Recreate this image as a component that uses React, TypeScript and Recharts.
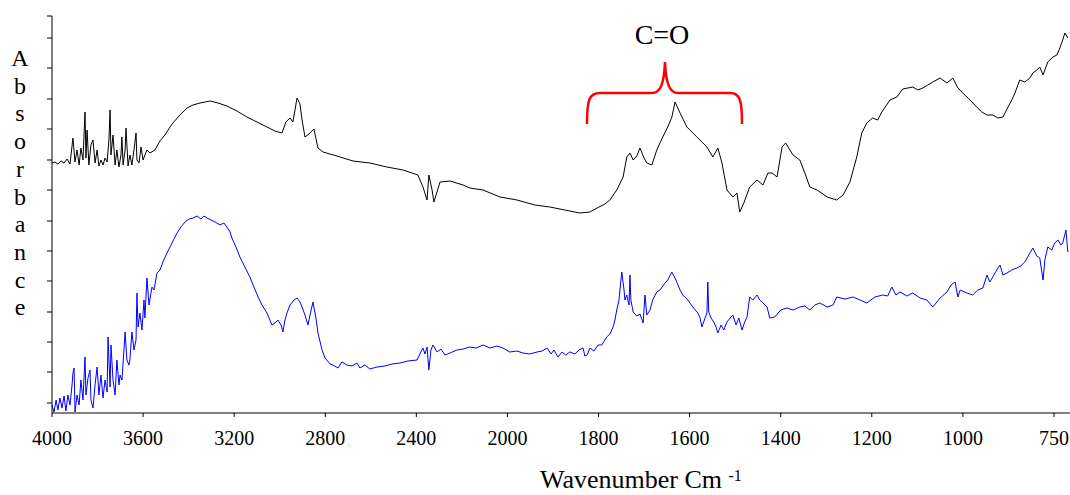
import { LineChart, Line, XAxis, YAxis } from 'recharts'

const SERIF = 'Liberation Serif, Times New Roman, DejaVu Serif, serif'

// axis break at 2000 cm-1: 400 per tick on the left, 200 per tick on the right
const X_TICKS = [4000, 3600, 3200, 2800, 2400, 2000, 1800, 1600, 1400, 1200, 1000, 750]
const X_END = 706
const Y_TICKS = [0.1, 0.41, 0.71, 1.01, 1.32, 1.62, 1.92, 2.23, 2.53, 2.84, 3.14, 3.45, 3.75, 3.97]
const Y_MAX = 3.97

const BLACK_WAVENUMBER = [
  4000, 3987, 3974, 3960, 3947, 3934, 3921, 3908, 3899, 3890,
  3881, 3873, 3864, 3855, 3851, 3846, 3838, 3829, 3820, 3811,
  3802, 3794, 3785, 3776, 3767, 3758, 3750, 3745, 3741, 3732,
  3723, 3715, 3706, 3697, 3693, 3688, 3679, 3675, 3666, 3658,
  3649, 3640, 3631, 3627, 3618, 3609, 3600, 3592, 3583, 3570,
  3548, 3526, 3504, 3482, 3469, 3438, 3407, 3381, 3350, 3328,
  3306, 3271, 3232, 3188, 3144, 3100, 3056, 3021, 2990, 2973,
  2955, 2942, 2924, 2911, 2902, 2889, 2867, 2850, 2832, 2810,
  2749, 2678, 2604, 2529, 2459, 2393, 2371, 2353, 2345, 2331,
  2323, 2296, 2252, 2195, 2165, 2107, 2033, 1979, 1940, 1907,
  1874, 1841, 1819, 1803, 1786, 1775, 1760, 1746, 1738, 1731,
  1724, 1716, 1709, 1700, 1694, 1683, 1672, 1659, 1648, 1639,
  1632, 1621, 1606, 1584, 1562, 1549, 1538, 1529, 1518, 1505,
  1496, 1490, 1481, 1468, 1452, 1439, 1428, 1419, 1408, 1397,
  1389, 1373, 1358, 1347, 1336, 1320, 1298, 1277, 1263, 1248,
  1233, 1222, 1211, 1198, 1187, 1178, 1160, 1145, 1132, 1110,
  1099, 1088, 1077, 1066, 1050, 1035, 1022, 1011, 1000, 989,
  975, 962, 948, 934, 918, 904, 890, 876, 866, 857,
  844, 830, 816, 808, 797, 789, 780, 767, 753, 742,
  734, 726, 720, 712,
]

const BLACK_ABSORBANCE = [
  2.5, 2.51, 2.49, 2.52, 2.5, 2.54, 2.49, 2.75, 2.51, 2.63,
  2.48, 2.65, 2.53, 3.01, 2.55, 2.83, 2.48, 2.68, 2.73, 2.5,
  2.63, 2.47, 2.53, 2.48, 2.55, 2.51, 2.73, 3.03, 2.58, 2.78,
  2.48, 2.63, 2.46, 2.58, 2.76, 2.48, 2.63, 2.85, 2.47, 2.58,
  2.48, 2.63, 2.8, 2.53, 2.5, 2.66, 2.53, 2.58, 2.63, 2.6,
  2.63, 2.72, 2.78, 2.86, 2.9, 2.98, 3.05, 3.08, 3.1, 3.11,
  3.12, 3.1, 3.07, 3.02, 2.96, 2.91, 2.86, 2.82, 2.8, 2.91,
  2.95, 2.91, 3.15, 3.09, 2.93, 2.76, 2.8, 2.84, 2.65, 2.61,
  2.57, 2.52, 2.5, 2.46, 2.43, 2.38, 2.26, 2.13, 2.38, 2.23,
  2.11, 2.31, 2.32, 2.28, 2.25, 2.23, 2.16, 2.13, 2.08, 2.06,
  2.03, 2.0, 2.01, 2.05, 2.09, 2.13, 2.23, 2.36, 2.56, 2.6,
  2.53, 2.57, 2.65, 2.55, 2.5, 2.48, 2.63, 2.76, 2.86, 2.96,
  3.11, 3.0, 2.86, 2.76, 2.66, 2.56, 2.65, 2.5, 2.23, 2.16,
  2.2, 2.01, 2.1, 2.26, 2.33, 2.28, 2.4, 2.4, 2.36, 2.66,
  2.7, 2.58, 2.53, 2.4, 2.26, 2.23, 2.16, 2.13, 2.18, 2.31,
  2.56, 2.8, 2.9, 2.95, 2.93, 3.01, 3.13, 3.16, 3.24, 3.26,
  3.23, 3.25, 3.28, 3.31, 3.35, 3.3, 3.35, 3.25, 3.2, 3.16,
  3.11, 3.06, 3.01, 2.98, 2.98, 2.95, 2.96, 3.06, 3.13, 3.2,
  3.33, 3.31, 3.35, 3.4, 3.43, 3.46, 3.38, 3.51, 3.56, 3.58,
  3.65, 3.73, 3.8, 3.75,
]

const BLUE_WAVENUMBER = [
  4000, 3991, 3982, 3974, 3965, 3956, 3947, 3939, 3930, 3921,
  3912, 3908, 3903, 3899, 3890, 3881, 3873, 3864, 3855, 3851,
  3842, 3833, 3829, 3820, 3811, 3802, 3794, 3785, 3776, 3767,
  3758, 3754, 3745, 3741, 3732, 3723, 3715, 3706, 3701, 3693,
  3684, 3679, 3671, 3662, 3658, 3649, 3640, 3631, 3627, 3622,
  3614, 3605, 3596, 3592, 3583, 3574, 3561, 3552, 3539, 3526,
  3513, 3495, 3473, 3451, 3434, 3416, 3398, 3381, 3363, 3346,
  3333, 3319, 3302, 3284, 3262, 3245, 3232, 3218, 3210, 3192,
  3175, 3153, 3131, 3113, 3095, 3078, 3056, 3034, 3021, 3008,
  2994, 2986, 2977, 2968, 2955, 2937, 2924, 2911, 2902, 2889,
  2876, 2867, 2854, 2841, 2832, 2814, 2801, 2779, 2766, 2744,
  2727, 2705, 2683, 2661, 2648, 2626, 2604, 2573, 2538, 2507,
  2472, 2437, 2397, 2380, 2371, 2362, 2353, 2345, 2336, 2327,
  2309, 2292, 2274, 2252, 2222, 2195, 2165, 2138, 2107, 2077,
  2046, 2020, 1995, 1979, 1966, 1951, 1935, 1924, 1913, 1904,
  1898, 1889, 1880, 1872, 1863, 1852, 1843, 1834, 1830, 1825,
  1819, 1810, 1801, 1793, 1782, 1775, 1768, 1764, 1760, 1755,
  1753, 1749, 1744, 1742, 1738, 1733, 1731, 1729, 1724, 1716,
  1709, 1702, 1698, 1694, 1687, 1681, 1672, 1665, 1654, 1648,
  1639, 1630, 1621, 1615, 1604, 1593, 1582, 1577, 1573, 1566,
  1562, 1560, 1558, 1553, 1547, 1542, 1538, 1531, 1525, 1518,
  1511, 1505, 1498, 1492, 1485, 1479, 1474, 1468, 1461, 1452,
  1446, 1439, 1430, 1424, 1413, 1400, 1386, 1373, 1358, 1347,
  1336, 1325, 1314, 1298, 1285, 1277, 1259, 1241, 1226, 1211,
  1193, 1176, 1165, 1156, 1147, 1138, 1123, 1110, 1094, 1079,
  1066, 1050, 1035, 1026, 1017, 1011, 1006, 989, 973, 959,
  945, 934, 926, 918, 907, 898, 890, 879, 866, 852,
  841, 830, 819, 808, 797, 789, 780, 775, 767, 756,
  748, 739, 731, 726, 717, 712,
]

const BLUE_ABSORBANCE = [
  0.08, 0.01, 0.13, 0.03, 0.15, 0.05, 0.17, 0.02, 0.18, 0.08,
  0.28, 0.4, 0.45, 0.01, 0.18, 0.08, 0.33, 0.13, 0.56, 0.18,
  0.35, 0.43, 0.13, 0.05, 0.28, 0.46, 0.18, 0.38, 0.15, 0.33,
  0.21, 0.76, 0.26, 0.68, 0.33, 0.18, 0.53, 0.28, 0.38, 0.33,
  0.63, 0.81, 0.53, 0.48, 0.53, 0.81, 0.63, 0.73, 1.2, 0.86,
  1.0, 0.83, 1.13, 0.95, 1.35, 1.08, 1.26, 1.23, 1.4, 1.43,
  1.51, 1.6, 1.7, 1.8, 1.86, 1.91, 1.94, 1.95, 1.97, 1.94,
  1.97, 1.95, 1.93, 1.91, 1.88, 1.9, 1.86, 1.81, 1.75, 1.66,
  1.56, 1.46, 1.36, 1.26, 1.16, 1.08, 1.0, 0.88, 0.9, 0.93,
  0.88, 0.81, 0.93, 1.0, 1.08, 1.13, 1.15, 1.11, 1.06, 0.98,
  0.88, 0.98, 1.11, 0.95, 0.8, 0.63, 0.55, 0.49, 0.48, 0.45,
  0.51, 0.48, 0.47, 0.5, 0.45, 0.48, 0.44, 0.46, 0.47, 0.49,
  0.5, 0.52, 0.53, 0.61, 0.65, 0.59, 0.66, 0.43, 0.63, 0.68,
  0.61, 0.64, 0.58, 0.6, 0.63, 0.64, 0.66, 0.65, 0.68, 0.65,
  0.67, 0.65, 0.61, 0.62, 0.6, 0.59, 0.61, 0.62, 0.65, 0.59,
  0.63, 0.56, 0.61, 0.58, 0.61, 0.59, 0.63, 0.65, 0.57, 0.58,
  0.65, 0.62, 0.68, 0.68, 0.76, 0.79, 0.86, 0.93, 1.03, 1.13,
  1.23, 1.41, 1.23, 1.13, 1.18, 1.08, 1.38, 1.13, 1.01, 0.97,
  0.99, 0.9, 1.18, 0.98, 1.03, 1.13, 1.21, 1.23, 1.3, 1.33,
  1.41, 1.33, 1.23, 1.18, 1.13, 1.06, 1.0, 0.95, 0.86, 0.95,
  1.0, 1.31, 1.01, 0.95, 0.91, 0.86, 0.8, 0.88, 0.83, 0.91,
  0.95, 0.98, 0.88, 0.95, 0.83, 0.91, 0.96, 1.16, 1.13, 1.18,
  1.13, 1.1, 1.06, 0.95, 0.96, 1.03, 1.05, 1.03, 1.06, 1.07,
  1.03, 1.08, 1.1, 1.06, 1.08, 1.16, 1.14, 1.16, 1.13, 1.1,
  1.16, 1.18, 1.17, 1.26, 1.18, 1.21, 1.17, 1.2, 1.15, 1.13,
  1.06, 1.15, 1.21, 1.28, 1.31, 1.16, 1.23, 1.2, 1.18, 1.23,
  1.25, 1.38, 1.31, 1.36, 1.43, 1.48, 1.38, 1.4, 1.43, 1.45,
  1.47, 1.51, 1.58, 1.65, 1.57, 1.55, 1.33, 1.53, 1.66, 1.63,
  1.7, 1.73, 1.68, 1.7, 1.83, 1.61,
]

// wavenumber -> position along the (piecewise linear) axis, one unit per labelled tick
function toPos(w: number) {
  const n = X_TICKS.length
  for (let i = 0; i < n - 1; i++) {
    const hi = X_TICKS[i]
    const lo = X_TICKS[i + 1]
    if (w >= lo || i === n - 2) return i + (hi - w) / (hi - lo)
  }
  return 0
}

const blackData = BLACK_WAVENUMBER.map((w, i) => ({ pos: toPos(w), a: BLACK_ABSORBANCE[i] }))
const blueData = BLUE_WAVENUMBER.map((w, i) => ({ pos: toPos(w), a: BLUE_ABSORBANCE[i] }))
const tickPositions = X_TICKS.map(toPos)

const serifStyle = { fontFamily: SERIF }

const YLabel = () => (
  <text x={20} y={66} textAnchor="middle" style={serifStyle} fontSize={24} fill="#000">
    {'Absorbance'.split('').map((ch, i) => (
      <tspan key={i} x={20} dy={i === 0 ? 0 : 27.7}>
        {ch}
      </tspan>
    ))}
  </text>
)

const XLabel = () => (
  <text x={540} y={488} style={serifStyle} fontSize={26} fill="#000">
    Wavenumber Cm{' '}
    <tspan dy={-7} fontSize={16}>
      -1
    </tspan>
  </text>
)

export default function App() {
  return (
    <div style={{ position: 'absolute', left: 0, top: 0, width: 1070, height: 495, background: '#fff' }}>
      <LineChart width={1070} height={495} margin={{ top: 16, right: 0, bottom: 0, left: 0 }}>
        <XAxis
          type="number"
          dataKey="pos"
          domain={[0, toPos(X_END)]}
          ticks={tickPositions}
          interval={0}
          tickFormatter={(v) => String(X_TICKS[Math.round(v)] ?? '')}
          height={82}
          tickSize={4}
          tickMargin={14}
          stroke="#000"
          tick={{ fill: '#000', fontSize: 20, style: serifStyle }}
          label={XLabel}
        />
        <YAxis
          type="number"
          domain={[0, Y_MAX]}
          ticks={Y_TICKS}
          interval={0}
          width={52}
          tickSize={5}
          tickFormatter={() => ''}
          stroke="#000"
          label={YLabel}
        />
        <Line
          data={blackData}
          dataKey="a"
          type="linear"
          stroke="#000"
          strokeWidth={1}
          dot={false}
          isAnimationActive={false}
        />
        <Line
          data={blueData}
          dataKey="a"
          type="linear"
          stroke="#0000ff"
          strokeWidth={1}
          dot={false}
          isAnimationActive={false}
        />
      </LineChart>
      <svg width={1070} height={495} style={{ position: 'absolute', left: 0, top: 0, pointerEvents: 'none' }}>
        <text x={662} y={44} textAnchor="middle" style={serifStyle} fontSize={28} fill="#000">
          C=O
        </text>
        <path
          d="M587,124 C587,100 589,93 600,93 L652,93 C660,93 664,85 665,62 C666,85 670,93 678,93 L730,93 C740,93 742,100 742,124"
          fill="none"
          stroke="#ff0000"
          strokeWidth={2.5}
        />
      </svg>
    </div>
  )
}
